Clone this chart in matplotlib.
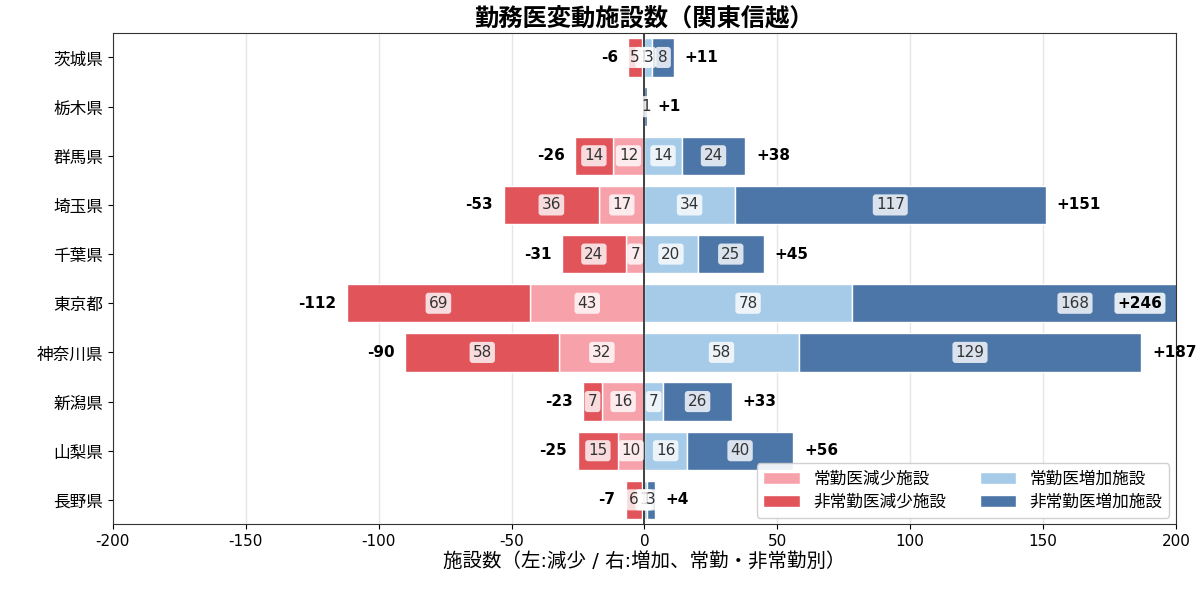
import matplotlib
matplotlib.use("Agg")
import matplotlib.pyplot as plt
import numpy as np

plt.rcParams['font.family'] = ['DejaVu Sans', 'Noto Sans CJK JP']
plt.rcParams['axes.unicode_minus'] = False
plt.rcParams['axes.edgecolor'] = '#333333'

prefs = ["茨城県", "栃木県", "群馬県", "埼玉県", "千葉県", "東京都", "神奈川県", "新潟県", "山梨県", "長野県"]
full_dec = [1, 0, 12, 17, 7, 43, 32, 16, 10, 1]
part_dec = [5, 0, 14, 36, 24, 69, 58, 7, 15, 6]
full_inc = [3, 0, 14, 34, 20, 78, 58, 7, 16, 1]
part_inc = [8, 1, 24, 117, 25, 168, 129, 26, 40, 3]

c_fd = "#f7a1ab"
c_pd = "#e0545a"
c_fi = "#a5cbe9"
c_pi = "#4b76a7"

fig, ax = plt.subplots(figsize=(12, 5.98), dpi=100)
fig.subplots_adjust(left=0.094, right=0.98, top=0.945, bottom=0.123)

y = np.arange(len(prefs))
h = 0.78
fd = np.array(full_dec); pdn = np.array(part_dec)
fi = np.array(full_inc); pi = np.array(part_inc)

ax.set_axisbelow(True)
ax.grid(axis='x', color='#e6e6e6', linewidth=1)
ax.barh(y, -fd, height=h, color=c_fd, edgecolor='white', linewidth=1, label="常勤医減少施設")
ax.barh(y, -pdn, left=-fd, height=h, color=c_pd, edgecolor='white', linewidth=1, label="非常勤医減少施設")
ax.barh(y, fi, height=h, color=c_fi, edgecolor='white', linewidth=1, label="常勤医増加施設")
ax.barh(y, pi, left=fi, height=h, color=c_pi, edgecolor='white', linewidth=1, label="非常勤医増加施設")
ax.axvline(0, color='#333333', linewidth=1.3, zorder=3)

bbox = dict(boxstyle='round,pad=0.2', facecolor='white', alpha=0.8, edgecolor='none')
xmax = 200
for i in range(len(prefs)):
    segs = [(-fd[i] / 2, fd[i]), (-fd[i] - pdn[i] / 2, pdn[i]),
            (fi[i] / 2, fi[i]), (fi[i] + pi[i] / 2, pi[i])]
    for xc, v in segs:
        if v > 0:
            ax.text(xc, i, str(v), ha='center', va='center', fontsize=11, color='#333333',
                    bbox=bbox, zorder=4, clip_on=True)
    dec = fd[i] + pdn[i]
    inc = fi[i] + pi[i]
    if dec > 0:
        ax.text(-dec - 4, i, f"-{dec}", ha='right', va='center', fontsize=11, fontweight='bold', zorder=5)
    if inc > 0:
        if inc > xmax:
            ax.text(178, i, f"+{inc}", ha='left', va='center', fontsize=11, fontweight='bold', zorder=5,
                    bbox=dict(boxstyle='round,pad=0.2', facecolor='white', alpha=0.85, edgecolor='none'))
        else:
            ax.text(inc + 4, i, f"+{inc}", ha='left', va='center', fontsize=11, fontweight='bold', zorder=5)

ax.set_yticks(y)
ax.set_yticklabels(prefs, fontsize=12)
ax.set_ylim(len(prefs) - 0.5, -0.5)
ax.set_xlim(-200, 200)
ax.set_xticks(np.arange(-200, 201, 50))
ax.tick_params(axis='x', labelsize=11)
ax.set_xlabel("施設数（左:減少 / 右:増加、常勤・非常勤別）", fontsize=14, labelpad=2)
ax.set_title("勤務医変動施設数（関東信越）", fontsize=17.5, fontweight='bold', pad=5)

handles, labels = ax.get_legend_handles_labels()
ax.legend(handles, labels, loc='lower right', ncol=2, fontsize=12, framealpha=0.9,
          columnspacing=2.0, handlelength=2.2, borderaxespad=0.4, labelspacing=0.3)

fig.savefig("out.png", dpi=100)
